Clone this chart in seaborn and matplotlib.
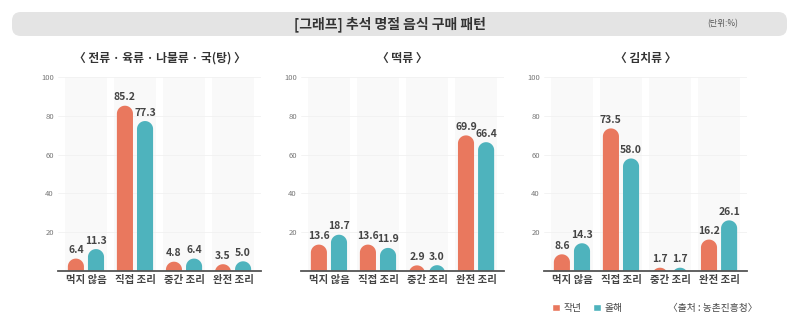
import matplotlib
matplotlib.use("Agg")
import matplotlib.pyplot as plt
from matplotlib.patches import FancyBboxPatch, Polygon
import seaborn as sns
import pandas as pd
import numpy as np

# ---- data ----
categories = ["먹지 않음", "직접 조리", "중간 조리", "완전 조리"]
series_names = ["작년", "올해"]
panel_titles = ["〈 전류 · 육류 · 나물류 · 국(탕) 〉", "〈 떡류 〉", "〈 김치류 〉"]
jeon_last = [6.4, 85.2, 4.8, 3.5]
jeon_this = [11.3, 77.3, 6.4, 5.0]
tteok_last = [13.6, 13.6, 2.9, 69.9]
tteok_this = [18.7, 11.9, 3.0, 66.4]
kimchi_last = [8.6, 73.5, 1.7, 16.2]
kimchi_this = [14.3, 58.0, 1.7, 26.1]
yticks = [20, 40, 60, 80, 100]
title = "[그래프] 추석 명절 음식 구매 패턴"
unit = "(단위:%)"
source = "〈출처 : 농촌진흥청〉"

panels = [(jeon_last, jeon_this), (tteok_last, tteok_this), (kimchi_last, kimchi_this)]

sns.set_theme(style="white")
plt.rcParams["font.family"] = ["Noto Sans CJK KR", "DejaVu Sans"]

colors = {"작년": "#E9785E", "올해": "#4EB3BD"}

W, H = 800, 324
fig = plt.figure(figsize=(W / 100, H / 100), dpi=100)
fig.patch.set_facecolor("white")

# title band
band = FancyBboxPatch((12 / W, 1 - 36 / H), (787 - 12) / W, 24 / H,
                      boxstyle="round,pad=0,rounding_size=0.011",
                      mutation_aspect=W / H, transform=fig.transFigure,
                      facecolor="#e4e4e4", edgecolor="none", zorder=0)
fig.patches.append(band)
fig.text(390 / W, 1 - 24 / H, title, ha="center", va="center",
         fontsize=10, fontweight="bold", color="#333333")
fig.text(723 / W, 1 - 24 / H, unit, ha="center", va="center",
         fontsize=6, color="#555555")

ax_left = [58, 301, 544]
ax_w = 203
ax_top, ax_bot = 77, 271
xlim = (-0.57, 3.57)
ylim = (0, 100)

legend_handles = None
for i, ((last, this), ptitle) in enumerate(zip(panels, panel_titles)):
    ax = fig.add_axes([ax_left[i] / W, 1 - ax_bot / H, ax_w / W, (ax_bot - ax_top) / H])
    df = pd.DataFrame({
        "category": categories * 2,
        "series": [series_names[0]] * 4 + [series_names[1]] * 4,
        "value": list(last) + list(this),
    })
    # background columns
    for k in range(len(categories)):
        ax.axvspan(k - 0.43, k + 0.43, color="#f9f9f9", zorder=0, lw=0)
    for yt in yticks:
        ax.axhline(yt, color="#efefef", lw=0.5, zorder=0.5)

    sns.barplot(data=df, x="category", y="value", hue="series", order=categories,
                hue_order=series_names, palette=colors, width=0.82, gap=0.2,
                saturation=1, ax=ax, legend=True, errorbar=None, zorder=2)
    ax.set_xlim(*xlim)
    ax.set_ylim(*ylim)

    if legend_handles is None:
        legend_handles, legend_labels = ax.get_legend_handles_labels()
    if ax.get_legend() is not None:
        ax.get_legend().remove()

    # rounded-top bars (semi-elliptic cap that is circular on screen)
    px_x = ax_w / (xlim[1] - xlim[0])
    px_y = (ax_bot - ax_top) / (ylim[1] - ylim[0])
    aspect = px_x / px_y
    for cont in ax.containers:
        for p in cont:
            x0, w, h = p.get_x(), p.get_width(), p.get_height()
            fc = p.get_facecolor()
            rx = w / 2
            ry = rx * aspect
            cx = x0 + rx
            cy = h - ry
            t = np.linspace(np.pi, 0, 40)
            cap = np.column_stack([cx + rx * np.cos(t), cy + ry * np.sin(t)])
            bottom = -2 * ry - 5
            pts = np.vstack([[x0, bottom], cap, [x0 + w, bottom]])
            ax.add_patch(Polygon(pts, closed=True, facecolor=fc, edgecolor="none",
                                 zorder=2, clip_on=True))
            p.set_visible(False)
            ax.annotate(f"{h:.1f}", (cx, h), xytext=(0, 2.5),
                        textcoords="offset points", ha="center", va="bottom",
                        fontsize=7.5, fontweight="bold", color="#444444",
                        annotation_clip=False)

    ax.set_xlabel("")
    ax.set_ylabel("")
    ax.set_yticks(yticks)
    ax.set_yticklabels([str(v) for v in yticks])
    ax.tick_params(axis="y", length=0, pad=3, labelsize=5.5, labelcolor="#777777")
    ax.tick_params(axis="x", length=0, pad=3, labelsize=7.5, labelcolor="#444444")
    for lab in ax.get_xticklabels():
        lab.set_fontweight("bold")
    for s in ["left", "right", "top"]:
        ax.spines[s].set_visible(False)
    ax.spines["bottom"].set_color("#555555")
    ax.spines["bottom"].set_linewidth(1.3)
    ax.spines["bottom"].set_zorder(5)
    ax.set_facecolor("white")

    ax.text(0.5, 1 + 19 / (ax_bot - ax_top), ptitle, transform=ax.transAxes,
            ha="center", va="center", fontsize=8.5, fontweight="bold", color="#333333")

leg = fig.legend(legend_handles, legend_labels, loc="center left",
                 bbox_to_anchor=(547 / W, 1 - 308 / H), ncol=2, frameon=False,
                 fontsize=7, handlelength=0.8, handleheight=0.8, handletextpad=0.4,
                 columnspacing=1.2, borderpad=0, labelcolor="#444444")
fig.text(713 / W, 1 - 308 / H, source, ha="center", va="center",
         fontsize=7, color="#444444")

fig.savefig("out.png", dpi=100, facecolor="white")
